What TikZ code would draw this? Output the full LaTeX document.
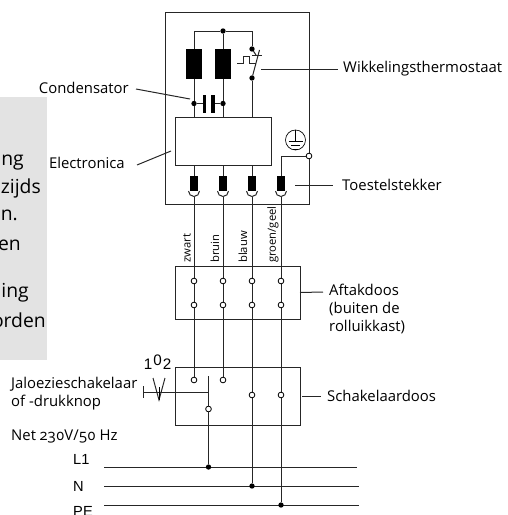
\documentclass[tikz,border=0pt]{standalone}
\usepackage{fontspec}
\setmainfont[Numbers=OldStyle]{Open Sans}
\newfontfamily\helv{Liberation Sans}
\usepackage{tikz}
\usepackage{xcolor}
\definecolor{panelgrey}{gray}{0.89}
\tikzset{
  wire/.style={line width=0.3mm,black!85},
  box/.style={draw,line width=0.3mm,black!85,rectangle,inner sep=0pt,outer sep=0pt,anchor=north west},
  coil/.style={fill=black,rectangle,inner sep=0pt,outer sep=0pt,minimum width=4.6mm,minimum height=9mm},
  plate/.style={fill=black,rectangle,inner sep=0pt,outer sep=0pt,minimum width=1.05mm,minimum height=5.4mm},
  plug/.style={fill=black,rectangle,inner sep=0pt,outer sep=0pt,minimum width=2.6mm,minimum height=4.5mm},
  dot/.style={circle,fill=black,inner sep=0pt,outer sep=0pt,minimum size=1.6mm},
  term/.style={circle,draw,fill=white,line width=0.25mm,inner sep=0pt,outer sep=0pt,minimum size=1.7mm},
  label/.style={font=\fontsize{12.7pt}{15pt}\selectfont,inner sep=0pt,anchor=west},
  wirelabel/.style={font=\fontsize{9.6pt}{11pt}\selectfont,inner sep=0pt,rotate=90,anchor=west},
  sidetext/.style={font=\fontsize{16.5pt}{20pt}\selectfont,inner sep=0pt,anchor=east},
  digit/.style={font=\helv\fontsize{13pt}{14pt}\selectfont,inner sep=0pt},
  netlabel/.style={font=\helv\fontsize{12.5pt}{14pt}\selectfont,inner sep=0pt,anchor=west}
}
\begin{document}
\begin{tikzpicture}[x=0.3mm,y=-0.3mm]
    \useasboundingbox (0,0) rectangle (507,515);
    \clip (0,0) rectangle (507,515);

    % Grey panel with cut off text
    \fill[panelgrey] (0,97) rectangle (47,360);
    \node[sidetext] (side1) at (24,163) {ng};
    \node[sidetext] (side2) at (41,188) {zijds};
    \node[sidetext] (side3) at (18,215) {n.};
    \node[sidetext] (side4) at (21,245) {en};
    \node[sidetext] (side5) at (29,293) {ing};
    \node[sidetext] (side6) at (46,320) {orden};

    % Boxes
    \node[box,minimum width=43.2mm,minimum height=57.6mm] (kast) at (165.5,12) {};
    \node[box,minimum width=28.8mm,minimum height=14.6mm] (elec) at (175,117) {};
    \node[box,minimum width=37.5mm,minimum height=15.9mm] (aftak) at (175,266) {};
    \node[box,minimum width=37.5mm,minimum height=17.4mm] (schak) at (175,367) {};

    % Motor windings
    \node[coil] (coil1) at (194,64) {};
    \node[coil] (coil2) at (223,64) {};
    \node[dot] (top) at (223,31) {};
    \node[dot] (capl) at (194,103.5) {};
    \node[dot] (capr) at (223,103.5) {};
    \node[plate] (plate1) at (204.5,103.5) {};
    \node[plate] (plate2) at (213,103.5) {};
    \draw[wire] (coil1.north) |- (top) -- (coil2.north);
    \draw[wire] (coil1.south) -- (capl) -- (capl |- elec.north);
    \draw[wire] (coil2.south) -- (capr) -- (capr |- elec.north);
    \draw[wire] (capl) -- (plate1);
    \draw[wire] (plate2) -- (capr);

    % Thermostat
    \node[dot] (th1) at (252,49) {};
    \node[dot] (th2) at (252,78) {};
    \coordinate (blade) at (259.5,50);
    \draw[wire] (top) -| (th1);
    \draw[wire] (th2) -- (th2 |- elec.north);
    \draw[wire] (th2) -- (blade);
    \draw[wire] (th1) -- (256,55);
    \draw[wire] (th1 |- 0,55) -- (262,55);
    \draw[wire] (237,63.7) -- (243,63.7) -- (243,56) -- (249.5,56) -- (249.5,63.7) -- (256,63.7);

    % Plugs
    \node[plug] (plug1) at (194,183.5) {};
    \node[plug] (plug2) at (223,183.5) {};
    \node[plug] (plug3) at (252,183.5) {};
    \node[plug] (plug4) at (281,183.5) {};
    \draw[wire] (plug1.south) ++(-5.5,0) arc[start angle=180,end angle=0,radius=5.5];
    \draw[wire] (plug2.south) ++(-5.5,0) arc[start angle=180,end angle=0,radius=5.5];
    \draw[wire] (plug3.south) ++(-5.5,0) arc[start angle=180,end angle=0,radius=5.5];
    \draw[wire] (plug4.south) ++(-5.5,0) arc[start angle=180,end angle=0,radius=5.5];
    \draw[wire] (plug1.north |- elec.south) -- (plug1.north);
    \draw[wire] (plug2.north |- elec.south) -- (plug2.north);
    \draw[wire] (plug3.north |- elec.south) -- (plug3.north);

    % Earth
    \node[term] (earth) at (309,156) {};
    \node[circle,draw,line width=0.2mm,inner sep=0pt,minimum size=6mm] (gnd) at (295.5,140) {};
    \draw[line width=0.2mm] (gnd.north) -- (295.5,141);
    \draw[line width=0.2mm] (288.5,141) -- (302.5,141);
    \draw[line width=0.2mm] (291,145) -- (300,145);
    \draw[line width=0.2mm] (293,149) -- (298,149);
    \draw[wire] (plug4.north) |- (earth);

    % Lines of the net
    \node[netlabel] (l1) at (73,459) {L1};
    \node[netlabel] (n) at (73,486) {N};
    \node[netlabel] (pe) at (73,511) {PE};
    \coordinate (l1a) at (104,467);
    \coordinate (l1b) at (357,467);
    \coordinate (na) at (104,486);
    \coordinate (nb) at (359,486);
    \coordinate (pea) at (104,505);
    \coordinate (peb) at (359,505);
    \draw[wire] (l1a) -- (l1b);
    \draw[wire] (na) -- (nb);
    \draw[wire] (pea) -- (peb);
    \node[dot] (jl) at (208.5,467) {};
    \node[dot] (jn) at (252,486) {};
    \node[dot] (jpe) at (281,505) {};

    % Terminals
    \node[term] (s1) at (194,380) {};
    \node[term] (s2) at (223,380) {};
    \node[term] (s3) at (208.5,409) {};
    \coordinate (pin1) at ([yshift=-1.65mm]plug1.south);
    \coordinate (pin2) at ([yshift=-1.65mm]plug2.south);
    \coordinate (pin3) at ([yshift=-1.65mm]plug3.south);
    \coordinate (pin4) at ([yshift=-1.65mm]plug4.south);
    \draw[wire] (pin1) -- (s1);
    \draw[wire] (pin2) -- (s2);
    \draw[wire] (pin3) -- (jn);
    \draw[wire] (pin4) -- (jpe);
    \draw[wire] (s3) -- (jl);
    \node[term] (a1) at (194,281) {};
    \node[term] (a2) at (223,281) {};
    \node[term] (a3) at (252,281) {};
    \node[term] (a4) at (281,281) {};
    \node[term] (b1) at (194,305) {};
    \node[term] (b2) at (223,305) {};
    \node[term] (b3) at (252,305) {};
    \node[term] (b4) at (281,305) {};
    \node[term] (s4) at (252,395) {};
    \node[term] (s5) at (281,395) {};
    \node[wirelabel] (zwart) at (187,263) {zwart};
    \node[wirelabel] (bruin) at (215,263) {bruin};
    \node[wirelabel] (blauw) at (243,263) {blauw};
    \node[wirelabel] (groen) at (273,263) {groen/geel};

    % Switch
    \coordinate (swtop) at (208.5,376);
    \coordinate (knob) at (143,392);
    \draw[wire] (swtop) -- (s3);
    \draw[wire] (knob) -- (swtop |- knob);
    \draw[wire] (143,386) -- (143,398);
    \draw[wire] (153,378) -- (159,400) -- (165,378);
    \draw[line width=0.3mm] (159,387) -- (159,400);
    \node[digit] (d1) at (148,364) {1};
    \node[digit] (d0) at (157.5,360.5) {0};
    \node[digit] (d2) at (167,364) {2};

    % Labels with leaders
    \node[label,anchor=east] (condlabel) at (129,88) {Condensator};
    \coordinate (condstart) at (136,89);
    \coordinate (condend) at (190,99);
    \draw[wire] (condstart) -- (condend);
    \node[label,anchor=east] (eleclabel) at (125,163) {Electronica};
    \coordinate (elecstart) at (137,165);
    \coordinate (elecend) at (171,151);
    \draw[wire] (elecstart) -- (elecend);
    \node[label] (thlabel) at (343,69) {Wikkelingsthermostaat};
    \coordinate (thend) at (261,69);
    \draw[wire] (thend) -- ([xshift=-1.5mm]thlabel.west);
    \node[label] (toelabel) at (342,185) {Toestelstekker};
    \coordinate (toeend) at (295,185);
    \draw[wire] (toeend) -- ([xshift=-2.7mm]toelabel.west);
    \node[label,align=left] (aftlabel) at (329,309) {Aftakdoos\\(buiten de\\rolluikkast)};
    \coordinate (aftend) at (323,292);
    \draw[wire] (aftak.east) -- (aftend);
    \node[label] (schlabel) at (327,396) {Schakelaardoos};
    \coordinate (schstart) at (302,396);
    \draw[wire] (schstart) -- ([xshift=-1.8mm]schlabel.west);
    \node[label,align=left] (jallabel) at (11,393.5) {Jaloezieschakelaar\\of -drukknop};
    \node[label] (netlabel) at (11,437) {Net 230V/50 Hz};
\end{tikzpicture}
\end{document}
